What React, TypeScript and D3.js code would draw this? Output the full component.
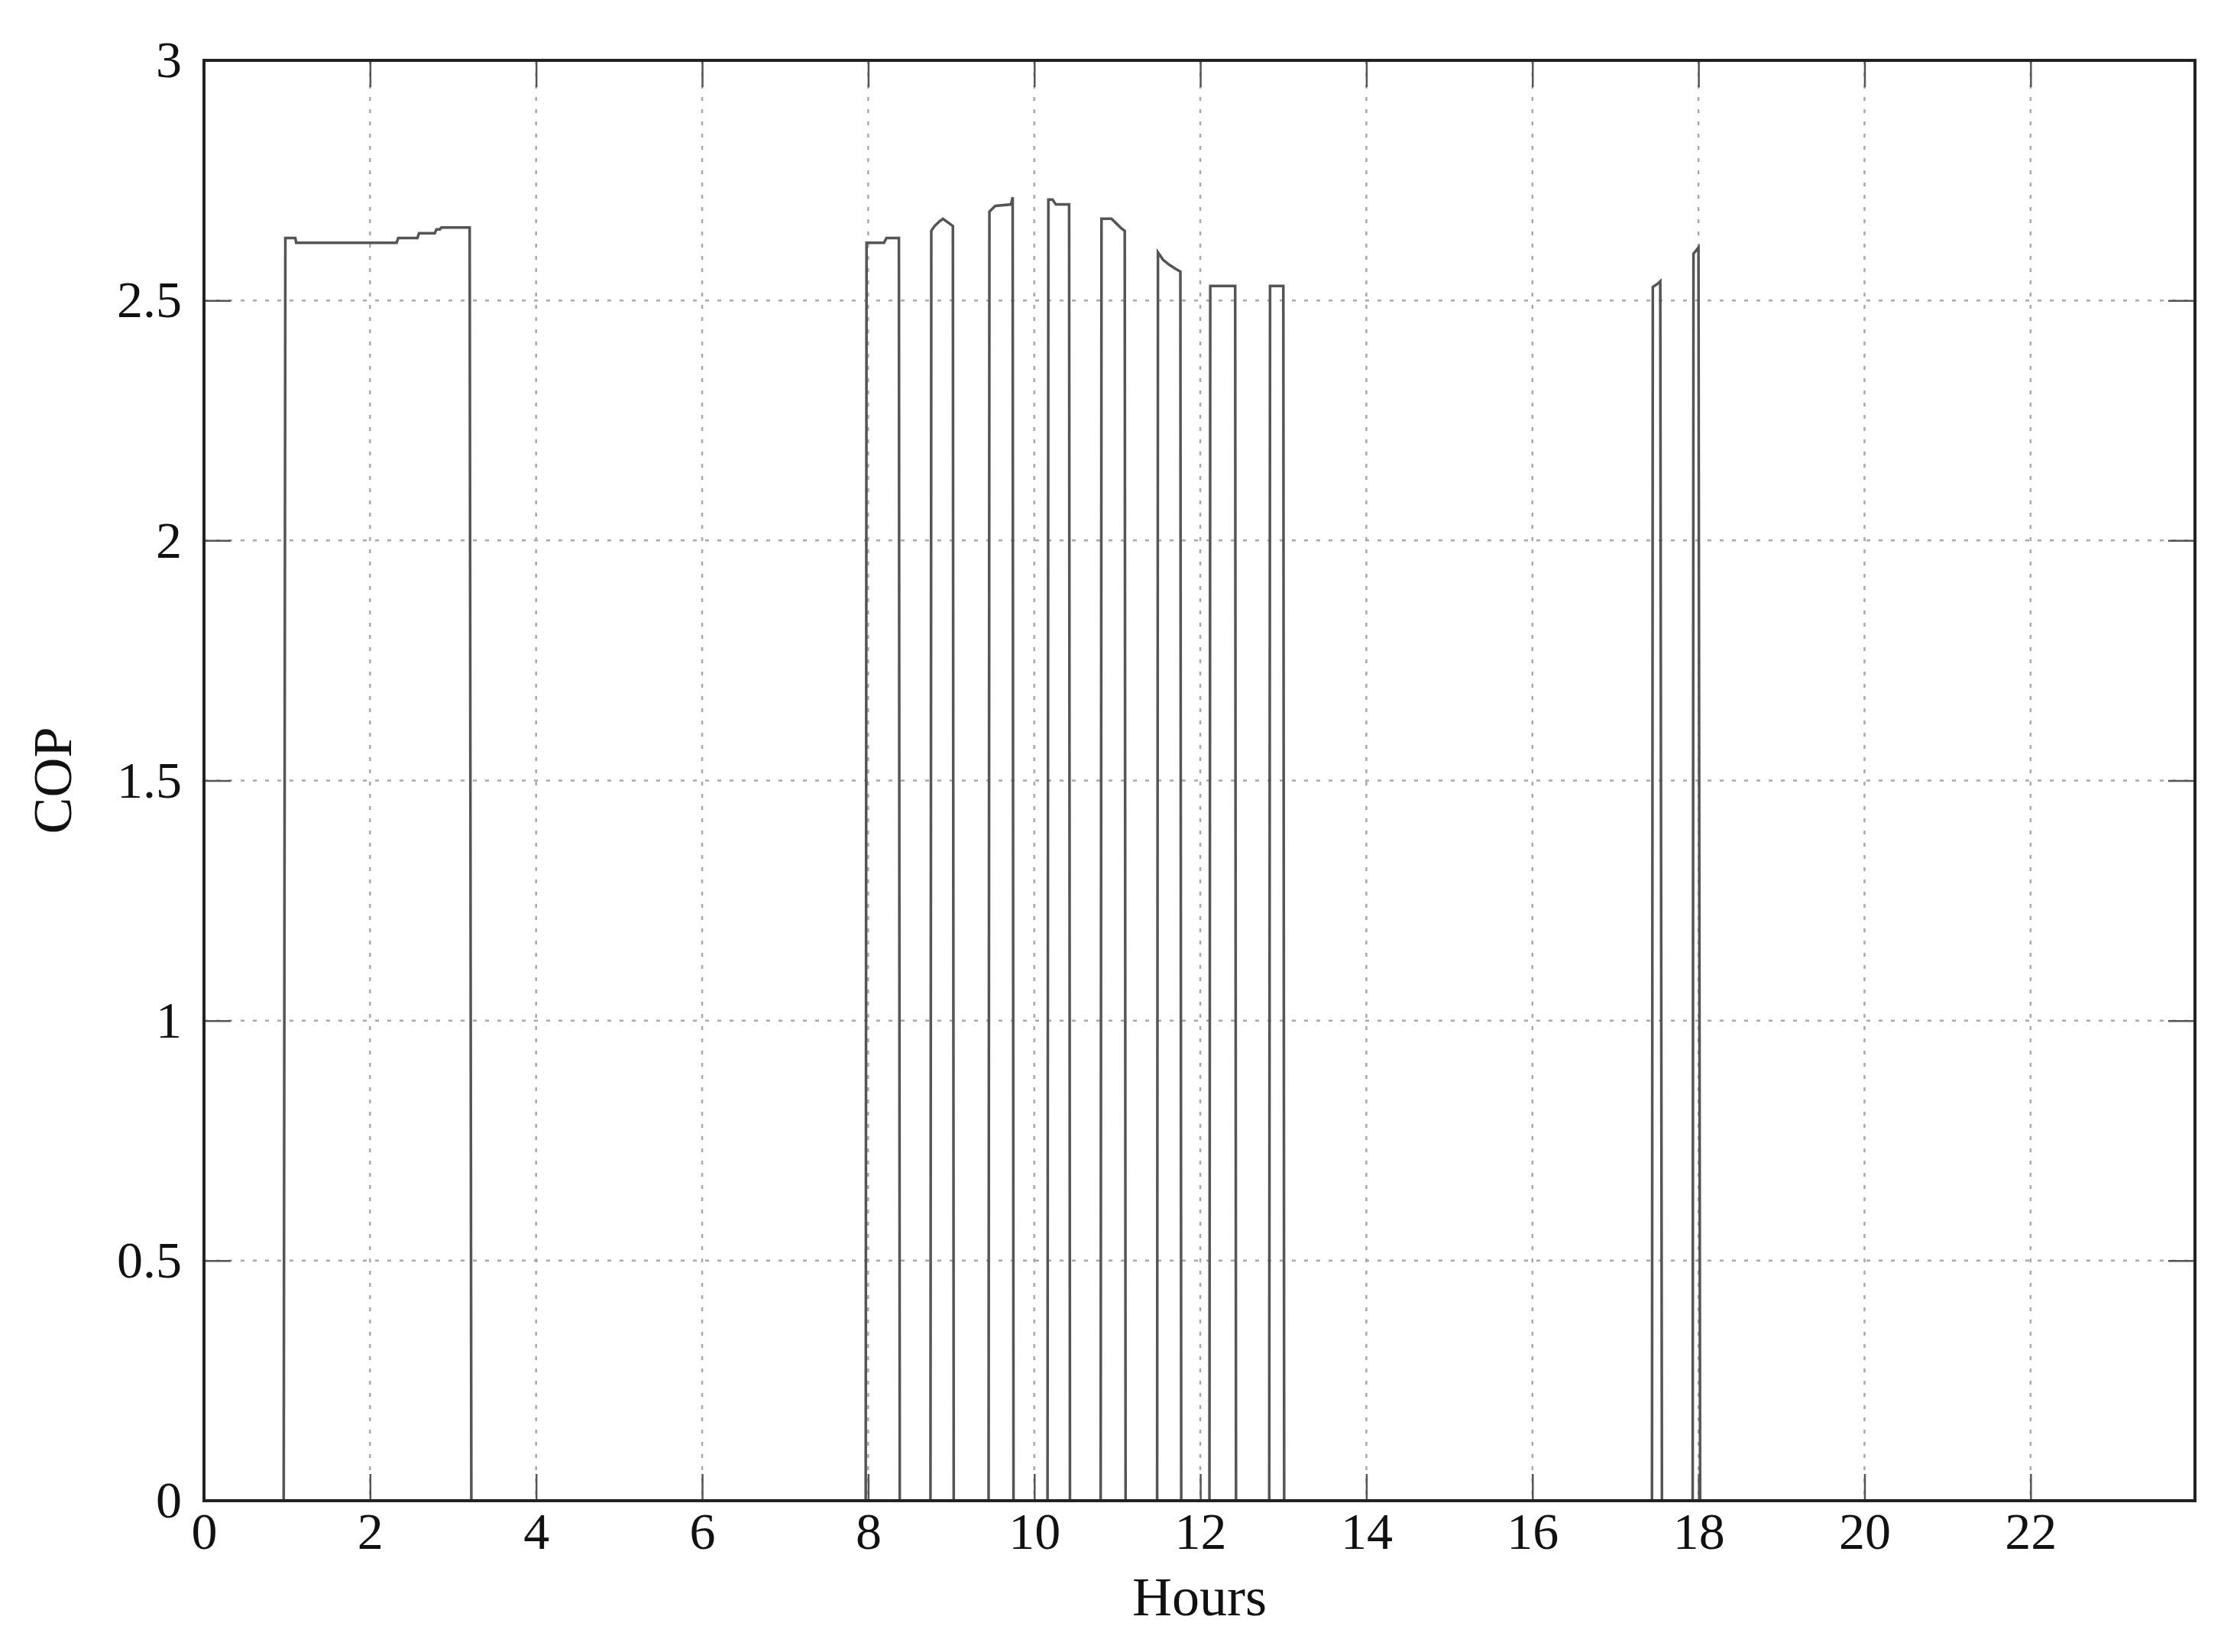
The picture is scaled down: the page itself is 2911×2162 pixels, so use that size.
import {
  select,
  scaleLinear,
  axisBottom,
  axisLeft,
  axisTop,
  axisRight,
  line,
} from "d3";
import React, { useEffect, useRef } from "react";

// 시간축 눈금
const xTicks = [0, 2, 4, 6, 8, 10, 12, 14, 16, 18, 20, 22];
const yTicks = [0, 0.5, 1, 1.5, 2, 2.5, 3];
const xMax = 23.98;

// 운전 사이클별 (시간, COP) 값
const hours = [
  0, 0.96,
  0.98, 1.1, 1.11, 2.32, 2.34, 2.57, 2.59, 2.78, 2.8, 2.84, 2.86, 3.2, 3.22,
  7.97, 7.98, 8.19, 8.22, 8.37, 8.38,
  8.75, 8.76, 8.8, 8.86, 8.9, 8.98, 9.02, 9.03,
  9.45, 9.46, 9.53, 9.72, 9.74, 9.75,
  10.16, 10.17, 10.22, 10.26, 10.42, 10.43,
  10.8, 10.81, 10.93, 10.99, 11.05, 11.09, 11.1,
  11.48, 11.49, 11.55, 11.62, 11.69, 11.76, 11.77,
  12.11, 12.12, 12.42, 12.43,
  12.83, 12.84, 13.0, 13.01,
  17.44, 17.45, 17.51, 17.54, 17.56,
  17.93, 17.94, 18.0, 18.02,
  xMax,
];
const cop = [
  0, 0,
  2.63, 2.63, 2.62, 2.62, 2.63, 2.63, 2.64, 2.64, 2.648, 2.648, 2.652, 2.652, 0,
  0, 2.62, 2.62, 2.63, 2.63, 0,
  0, 2.645, 2.655, 2.665, 2.67, 2.66, 2.655, 0,
  0, 2.685, 2.697, 2.7, 2.715, 0,
  0, 2.71, 2.71, 2.7, 2.7, 0,
  0, 2.67, 2.67, 2.66, 2.65, 2.645, 0,
  0, 2.6, 2.585, 2.575, 2.567, 2.56, 0,
  0, 2.53, 2.53, 0,
  0, 2.53, 2.53, 0,
  0, 2.528, 2.535, 2.54, 0,
  0, 2.597, 2.61, 0,
  0,
];

const App = () => {
  const chartRef = useRef<SVGSVGElement>(null);

  useEffect(() => {
    if (!chartRef.current) return;
    const svg = select(chartRef.current);
    svg.selectAll("*").remove();

    // 그래프 영역 크기 설정
    const width = 2911;
    const height = 2162;
    const margin = { top: 79, right: 38, bottom: 198, left: 267 };
    const innerW = width - margin.left - margin.right;
    const innerH = height - margin.top - margin.bottom;
    const font = "'Liberation Serif', 'DejaVu Serif', serif";

    const g = svg
      .append("g")
      .attr("transform", `translate(${margin.left},${margin.top})`);

    const x = scaleLinear().domain([0, xMax]).range([0, innerW]);
    const y = scaleLinear().domain([0, 3]).range([innerH, 0]);

    // 격자선
    g.append("g")
      .selectAll("line")
      .data(xTicks.filter((d) => d > 0))
      .enter()
      .append("line")
      .attr("x1", (d) => x(d))
      .attr("x2", (d) => x(d))
      .attr("y1", 0)
      .attr("y2", innerH)
      .attr("stroke", "#a8a8a8")
      .attr("stroke-width", 2.5)
      .attr("stroke-dasharray", "5 11");

    g.append("g")
      .selectAll("line")
      .data(yTicks.filter((d) => d > 0 && d < 3))
      .enter()
      .append("line")
      .attr("x1", 0)
      .attr("x2", innerW)
      .attr("y1", (d) => y(d))
      .attr("y2", (d) => y(d))
      .attr("stroke", "#a8a8a8")
      .attr("stroke-width", 2.5)
      .attr("stroke-dasharray", "5 11");

    // 축 (눈금은 안쪽으로)
    const styleAxis = (sel: any) => {
      sel.select(".domain").remove();
      sel
        .selectAll(".tick line")
        .attr("stroke", "#555")
        .attr("stroke-width", 2.5);
      sel
        .selectAll(".tick text")
        .attr("fill", "#111")
        .style("font-family", font)
        .style("font-size", "68px");
    };

    g.append("g")
      .attr("transform", `translate(0,${innerH})`)
      .call(
        axisBottom(x)
          .tickValues(xTicks)
          .tickSize(-35)
          .tickPadding(15)
          .tickFormat((d) => String(d))
      )
      .call(styleAxis);

    g.append("g")
      .call(
        axisLeft(y)
          .tickValues(yTicks)
          .tickSize(-35)
          .tickPadding(29)
          .tickFormat((d) => String(d))
      )
      .call(styleAxis);

    g.append("g")
      .call(axisTop(x).tickValues(xTicks).tickSize(-35).tickFormat(() => ""))
      .call(styleAxis);

    g.append("g")
      .attr("transform", `translate(${innerW},0)`)
      .call(axisRight(y).tickValues(yTicks).tickSize(-35).tickFormat(() => ""))
      .call(styleAxis);

    // COP 선
    const pts = hours.map((h, i) => [h, cop[i]] as [number, number]);
    const lineGenerator = line<[number, number]>()
      .x((d) => x(d[0]))
      .y((d) => y(d[1]));

    g.append("path")
      .datum(pts)
      .attr("fill", "none")
      .attr("stroke", "#555")
      .attr("stroke-width", 3.5)
      .attr("d", lineGenerator);

    // 테두리
    g.append("rect")
      .attr("x", 0)
      .attr("y", 0)
      .attr("width", innerW)
      .attr("height", innerH)
      .attr("fill", "none")
      .attr("stroke", "#222")
      .attr("stroke-width", 4);

    // 축 제목
    svg
      .append("text")
      .attr("x", margin.left + innerW / 2)
      .attr("y", 2114)
      .attr("text-anchor", "middle")
      .attr("fill", "#111")
      .style("font-family", font)
      .style("font-size", "72px")
      .text("Hours");

    svg
      .append("text")
      .attr("transform", `translate(93,${margin.top + innerH / 2}) rotate(-90)`)
      .attr("text-anchor", "middle")
      .attr("fill", "#111")
      .style("font-family", font)
      .style("font-size", "72px")
      .text("COP");
  }, []);

  return (
    <React.Fragment>
      <style>{`body{margin:0;background:#fff}`}</style>
      <svg ref={chartRef} width={2911} height={2162} style={{ display: "block" }}></svg>
    </React.Fragment>
  );
};

export default App;
